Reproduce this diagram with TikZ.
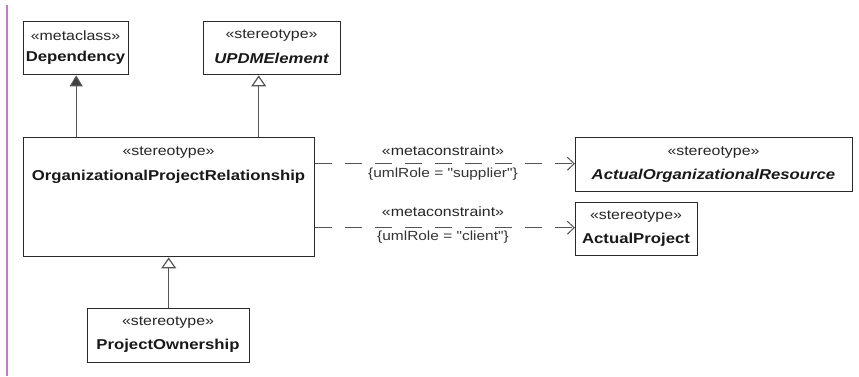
\documentclass[tikz,border=0pt]{standalone}
\usepackage{fontspec}
\setmainfont{Liberation Sans}
\newfontfamily\umlfont[FakeStretch=1.17]{Liberation Sans}
\usetikzlibrary{arrows.meta}
\definecolor{boxline}{HTML}{2A2A2A}
\definecolor{linkline}{HTML}{555555}
\definecolor{margin}{HTML}{C27CC6}
\begin{document}
\begin{tikzpicture}[x=1pt,y=-1pt,
  umlbox/.style={draw=boxline,line width=1.4pt,fill=white,inner sep=0pt,anchor=north west},
  stereo/.style={font=\umlfont\fontsize{13.6}{15}\selectfont,inner sep=0pt,text=black!85},
  cname/.style={font=\umlfont\fontsize{14.3}{16}\selectfont\bfseries,inner sep=0pt,text=black!90},
  iname/.style={font=\umlfont\fontsize{14.3}{16}\selectfont\bfseries\itshape,inner sep=0pt,text=black!90},
  cons/.style={font=\umlfont\fontsize{13.2}{15}\selectfont,inner sep=0pt,text=black!80},
  generalize/.style={draw=linkline,line width=1.2pt,-{Triangle[open,length=11pt,width=15pt,fill=white]}},
  extend/.style={draw=linkline,line width=1.2pt,-{Triangle[length=11pt,width=13pt,fill=black!75]}},
  metalink/.style={draw=linkline,line width=1pt,dash pattern=on 17pt off 13pt,-{Straight Barb[length=7pt,width=13pt]}}
]
\useasboundingbox (0,0) rectangle (859,376);
\fill[white] (0,0) rectangle (859,376);
\draw[margin,line width=2pt] (7,5) -- (7,376);

% boxes
\node[umlbox,minimum width=105pt,minimum height=53pt] (dep) at (23,21) {};
\node[stereo] (depS) at (75.5,36) {«metaclass»};
\node[cname] (depN) at (75.5,58) {Dependency};

\node[umlbox,minimum width=137pt,minimum height=53pt] (updm) at (203,21) {};
\node[stereo] (updmS) at (271.5,36) {«stereotype»};
\node[iname] (updmN) at (271.5,58) {UPDMElement};

\node[umlbox,minimum width=291pt,minimum height=119pt] (opr) at (23,137) {};
\node[stereo] (oprS) at (168.5,153) {«stereotype»};
\node[cname] (oprN) at (168.5,177) {OrganizationalProjectRelationship};

\node[umlbox,minimum width=162pt,minimum height=54pt] (po) at (87,308) {};
\node[stereo] (poS) at (168,323) {«stereotype»};
\node[cname] (poN) at (168,346) {ProjectOwnership};

\node[umlbox,minimum width=277pt,minimum height=54pt] (aor) at (575,137) {};
\node[stereo] (aorS) at (713.5,153) {«stereotype»};
\node[iname] (aorN) at (713.5,176) {ActualOrganizationalResource};

\node[umlbox,minimum width=122pt,minimum height=53pt] (ap) at (575,202) {};
\node[stereo] (apS) at (636,217) {«stereotype»};
\node[cname] (apN) at (636,240) {ActualProject};

% inheritance and extension
\draw[extend] (opr.north -| dep.south) -- (dep.south);
\coordinate (updmFoot) at ([xshift=-13.5pt]updm.south);
\draw[generalize] (opr.north -| updmFoot) -- (updmFoot);
\draw[generalize] (po.north) -- (opr.south -| po.north);

% metaconstraints
\coordinate (aorIn) at ([yshift=1pt]aor.west);
\coordinate (apIn) at ([yshift=1.5pt]ap.west);
\draw[metalink] (opr.east |- aorIn) -- (aorIn);
\draw[metalink] (opr.east |- apIn) -- (apIn);
\node[stereo] (m1) at (443,151) {«metaconstraint»};
\node[cons] (c1) at (443,174) {\{umlRole = "supplier"\}};
\node[stereo] (m2) at (443,212) {«metaconstraint»};
\node[cons] (c2) at (443,237) {\{umlRole = "client"\}};
\end{tikzpicture}
\end{document}
